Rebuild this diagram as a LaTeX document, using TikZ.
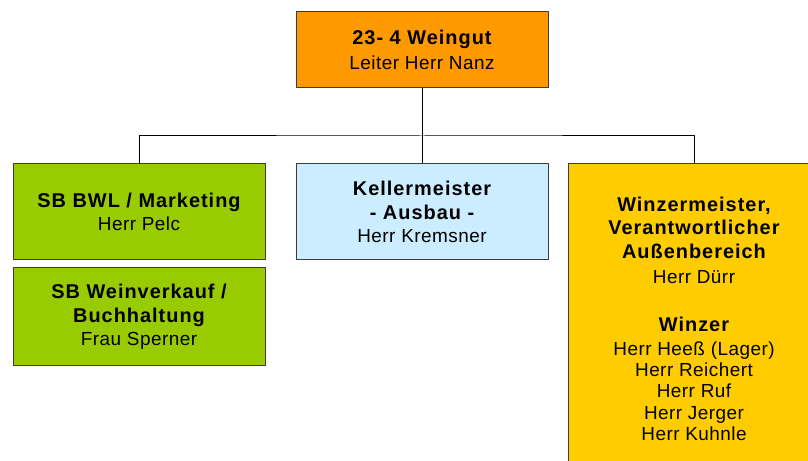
\documentclass[tikz,border=0pt]{standalone}
\usepackage{fontspec}
\setmainfont{Liberation Sans}
\definecolor{leitung}{HTML}{FF9900}
\definecolor{verwaltung}{HTML}{99CC00}
\definecolor{keller}{HTML}{CCECFF}
\definecolor{aussen}{HTML}{FFCC00}
\definecolor{rand}{HTML}{3C3C3C}
% bold heading line inside a box
\newcommand{\kopf}[1]{{\fontsize{20}{23.5}\selectfont\bfseries\addfontfeature{LetterSpace=5}#1}}
\tikzset{
  orgbox/.style={draw=rand,line width=1bp,align=center,inner sep=0pt,
    minimum width=252bp,font=\fontsize{19}{21.5}\selectfont\addfontfeature{LetterSpace=2.5}},
  stelle/.style={black,line width=1bp},
}
\begin{document}
\begin{tikzpicture}[line join=bevel,]
\useasboundingbox (0bp,0bp) rectangle (808bp,461bp);
\fill[white] (0bp,0bp) rectangle (808bp,461bp);
\clip (0bp,0bp) rectangle (808bp,461bp);
%%
\node (node_top) at (422bp,411bp) [orgbox,fill=leitung,minimum height=76bp] {\kopf{23- 4 Weingut}\\[3bp]Leiter Herr Nanz};
  \node (node_bwl) at (139bp,249bp) [orgbox,fill=verwaltung,minimum height=96bp] {\kopf{SB BWL / Marketing}\\[2bp]Herr Pelc};
  \node (node_verkauf) at (139bp,144bp) [orgbox,fill=verwaltung,minimum height=98bp] {\kopf{SB Weinverkauf /}\\[2bp]\kopf{Buchhaltung}\\[2bp]Frau Sperner};
  \node (node_keller) at (422bp,249bp) [orgbox,fill=keller,minimum height=96bp] {\kopf{Kellermeister}\\[2bp]\kopf{- Ausbau -}\\[2bp]Herr Kremsner};
  \node (node_winzer) at (694bp,142bp) [orgbox,fill=aussen,minimum height=310bp] {\kopf{Winzermeister,}\\[2bp]\kopf{Verantwortlicher}\\[2bp]\kopf{Außenbereich}\\[3.5bp]Herr Dürr\\[26.5bp]\kopf{Winzer}\\[2.5bp]Herr Heeß (Lager)\\Herr Reichert\\Herr Ruf\\Herr Jerger\\Herr Kuhnle};
  \coordinate (bus) at (422bp,325bp);
  \draw [stelle] (node_top) -- (bus);
  \draw [stelle] (node_bwl.north) |- (bus) -| (node_winzer.north);
  \draw [stelle] (bus) -- (node_keller);
%
\end{tikzpicture}
\end{document}
